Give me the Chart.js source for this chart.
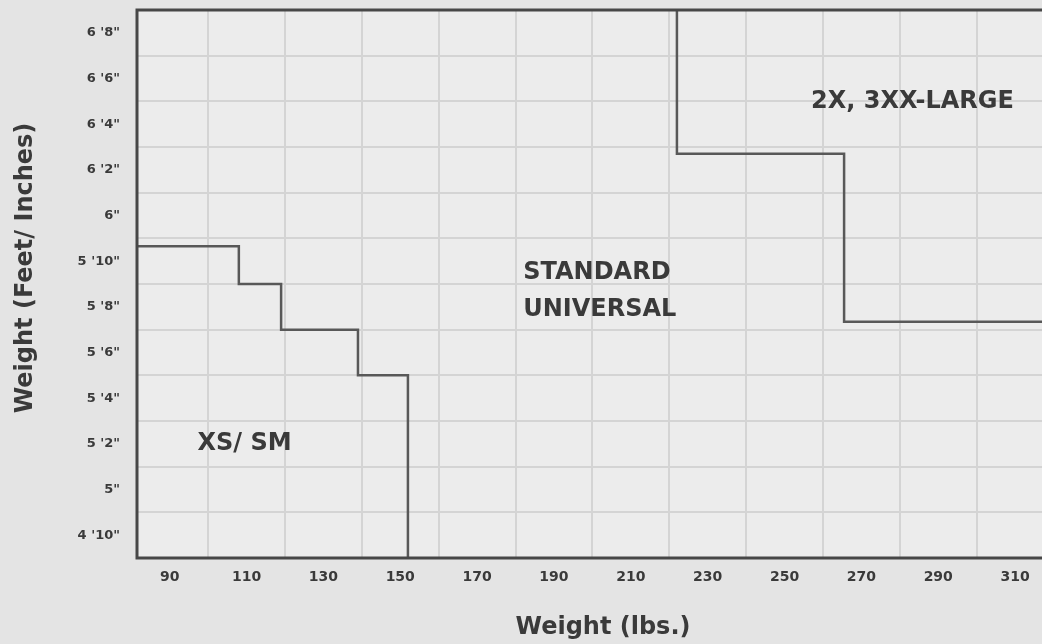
<!DOCTYPE html>
<html>
<head>
<meta charset="utf-8">
<script src="https://cdn.jsdelivr.net/npm/chart.js@4.4.1/dist/chart.umd.min.js"></script>
<style>
  html,body{ margin:0; padding:0; background:#e4e4e4; }
  #wrap{ width:1042px; height:644px; }
</style>
</head>
<body>
<div id="wrap"><canvas id="sizeChart" width="1042" height="644"></canvas></div>
<script>
// height bands (inches) and their tick text, top to bottom
const heightValues = [80,78,76,74,72,70,68,66,64,62,60,58];
const heightLabels = ["6 '8\"","6 '6\"","6 '4\"","6 '2\"","6\"","5 '10\"","5 '8\"","5 '6\"","5 '4\"","5 '2\"","5\"","4 '10\""];
const heightEdges = [57,59,61,63,65,67,69,71,73,75,77,79,81];

// weight axis
const weightTicks = [90,110,130,150,170,190,210,230,250,270,290,310];
const weightGrid = [100,120,140,160,180,200,220,240,260,280,300];
const weightMin = 81.5, weightMax = 317;

// XS/SM boundary (horizontal first, then down)
const xsWeights = [81.5,108,119,139,152];
const xsHeights = [70.65,69,67,65,57];

// 2X/3XX boundary (down first, then across)
const largeWeights = [222,265.5,317];
const largeHeights = [81,74.7,67.35];

// region names and where they sit (lbs, inches)
const regionText = [["XS/ SM"],["STANDARD","UNIVERSAL"],["2X, 3XX-LARGE"]];
const regionWeights = [109.5,182,283.3];
const regionHeights = [62,68.7,77];
const regionAlign = ["center","left","center"];

const C = { bg:"#e4e4e4", plot:"#ececec", grid:"#d4d4d4", frame:"#474747", line:"#585858", ink:"#3a3a3a" };
const FONT = "'DejaVu Sans', sans-serif";

const pts = (xs, ys) => xs.map((x,i)=>({ x:x, y:ys[i] }));

const decorPlugin = {
  id:"decor",
  beforeDraw(chart){
    const { ctx, chartArea:a } = chart;
    ctx.save();
    ctx.fillStyle = C.bg;
    ctx.fillRect(0,0,chart.width,chart.height);
    ctx.fillStyle = C.plot;
    ctx.fillRect(a.left,a.top,a.right-a.left,a.bottom-a.top);
    ctx.restore();
  },
  afterDraw(chart){
    const { ctx, chartArea:a, scales } = chart;
    ctx.save();
    // frame: top, left, bottom
    ctx.strokeStyle = C.frame;
    ctx.lineWidth = 3;
    ctx.beginPath();
    ctx.moveTo(chart.width+2, a.top); ctx.lineTo(a.left, a.top);
    ctx.lineTo(a.left, a.bottom); ctx.lineTo(chart.width+2, a.bottom);
    ctx.stroke();

    // region names
    ctx.fillStyle = C.ink;
    ctx.font = "bold 24px " + FONT;
    ctx.textBaseline = "middle";
    regionText.forEach((lines,i)=>{
      const x = scales.x.getPixelForValue(regionWeights[i]);
      const yc = scales.y.getPixelForValue(regionHeights[i]);
      ctx.textAlign = regionAlign[i];
      const step = 37;
      lines.forEach((t,j)=>{
        ctx.fillText(t, x, yc + (j-(lines.length-1)/2)*step);
      });
    });

    // axis titles
    ctx.textAlign = "center";
    ctx.fillText("Weight (lbs.)", 603, 628);
    ctx.translate(26, 268);
    ctx.rotate(-Math.PI/2);
    ctx.fillText("Weight (Feet/ Inches)", 0, 0);
    ctx.restore();
  }
};

const noPad = s => { s.paddingTop = 0; s.paddingBottom = 0; };

new Chart(document.getElementById("sizeChart"), {
  type:"line",
  data:{
    datasets:[
      { label:"XS/SM", data:pts(xsWeights,xsHeights), stepped:"before",
        borderColor:C.line, borderWidth:2.5, pointRadius:0, fill:false },
      { label:"2X/3XX", data:pts(largeWeights,largeHeights), stepped:"after",
        borderColor:C.line, borderWidth:2.5, pointRadius:0, fill:false }
    ]
  },
  options:{
    responsive:false,
    animation:false,
    layout:{ padding:{ left:0, right:0, top:10, bottom:0 } },
    plugins:{ legend:{ display:false }, tooltip:{ enabled:false } },
    scales:{
      x:{
        type:"linear", min:weightMin, max:weightMax, position:"bottom",
        afterBuildTicks: s => { s.ticks = weightTicks.map(v=>({ value:v })); },
        afterFit: s => { s.height = 86; },
        grid:{ display:false, drawTicks:false },
        border:{ display:false },
        ticks:{ padding:11, color:C.ink, font:{ family:FONT, size:14, weight:"bold" }, maxRotation:0, autoSkip:false }
      },
      xGrid:{
        type:"linear", min:weightMin, max:weightMax, position:"bottom",
        afterBuildTicks: s => { s.ticks = weightGrid.map(v=>({ value:v })); },
        afterFit: s => { s.height = 0; },
        grid:{ color:C.grid, lineWidth:2, drawTicks:false },
        border:{ display:false },
        ticks:{ display:false }
      },
      y:{
        type:"linear", min:57, max:81, position:"left",
        afterBuildTicks: s => { s.ticks = heightValues.map(v=>({ value:v })); },
        afterFit: s => { s.width = 137; noPad(s); },
        grid:{ display:false, drawTicks:false },
        border:{ display:false },
        ticks:{ padding:17, color:C.ink, font:{ family:FONT, size:13, weight:"bold" }, autoSkip:false,
          callback: v => heightLabels[heightValues.indexOf(v)] }
      },
      yGrid:{
        type:"linear", min:57, max:81, position:"left",
        afterBuildTicks: s => { s.ticks = heightEdges.map(v=>({ value:v })); },
        afterFit: s => { s.width = 0; noPad(s); },
        grid:{ color:C.grid, lineWidth:2, drawTicks:false },
        border:{ display:false },
        ticks:{ display:false }
      }
    }
  },
  plugins:[decorPlugin]
});
</script>
</body>
</html>
